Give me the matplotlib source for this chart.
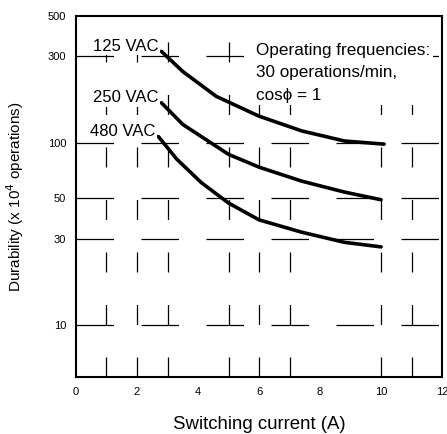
import matplotlib
matplotlib.use("Agg")
import matplotlib.pyplot as plt
from matplotlib.ticker import FixedLocator, NullLocator

plt.rcParams['font.family'] = ['Liberation Sans', 'DejaVu Sans']

# switching current (A) vs durability (x 10^4 operations)
cur_125 = [2.8, 3.5, 4.6, 6.0, 7.4, 8.8, 10.1]
dur_125 = [320, 248, 181, 141, 117, 103, 99]
cur_250 = [2.8, 3.5, 5.0, 6.0, 7.4, 8.8, 10.0]
dur_250 = [167, 127, 87, 74, 62, 54, 49]
cur_480 = [2.7, 3.3, 4.1, 5.0, 6.0, 7.4, 8.8, 10.0]
dur_480 = [109, 82, 61, 47, 38, 32.5, 28.6, 27]
series = [("125 VAC", cur_125, dur_125),
          ("250 VAC", cur_250, dur_250),
          ("480 VAC", cur_480, dur_480)]

x_ticks = [0, 2, 4, 6, 8, 10, 12]
y_ticks = [5, 10, 30, 50, 100, 300, 500]
x_grid = [1, 2, 3, 5, 6, 7, 10, 11]
y_grid = [10, 30, 50, 100, 300]

fig = plt.figure(figsize=(4.47, 4.34), dpi=100)
ax = fig.add_axes([0.170, 0.131, 0.819, 0.832])

ax.set_yscale("log")
ax.set_xlim(0, 12)
ax.set_ylim(5.2, 500)

# sparse broken grid like the scanned original
for gx in x_grid:
    ax.axvline(gx, color="black", lw=0.9, dashes=(16, 26), zorder=1)
for gy in y_grid:
    ax.axhline(gy, color="black", lw=0.9, dashes=(30, 22), zorder=1)

for name, xs, vals in series:
    ax.plot(xs, vals, color="black", lw=2.6, solid_capstyle="round", zorder=3)
    ax.text(xs[0] - 0.1, vals[0] * 0.97, name, ha="right", va="bottom", fontsize=12,
            bbox=dict(facecolor="white", edgecolor="none", pad=1), zorder=4)

ax.text(5.9, 355, "Operating frequencies:\n30 operations/min,\ncos\u03d5 = 1",
        ha="left", va="top", fontsize=12.3, linespacing=1.6,
        bbox=dict(facecolor="white", edgecolor="none", pad=2), zorder=4)

ax.xaxis.set_major_locator(FixedLocator(x_ticks))
ax.yaxis.set_major_locator(FixedLocator(y_ticks))
ax.yaxis.set_minor_locator(NullLocator())
ax.set_xticklabels([str(t) for t in x_ticks], fontsize=8)
ax.set_yticklabels([str(t) for t in y_ticks], fontsize=8)
ax.tick_params(length=0, pad=7)

for sp in ax.spines.values():
    sp.set_linewidth(1.5)

ax.set_xlabel("Switching current (A)", fontsize=13.4, labelpad=14)
ax.set_ylabel("Durability (x 10$^4$ operations)", fontsize=11, labelpad=16)

fig.savefig("out.png", dpi=100, facecolor="white")
